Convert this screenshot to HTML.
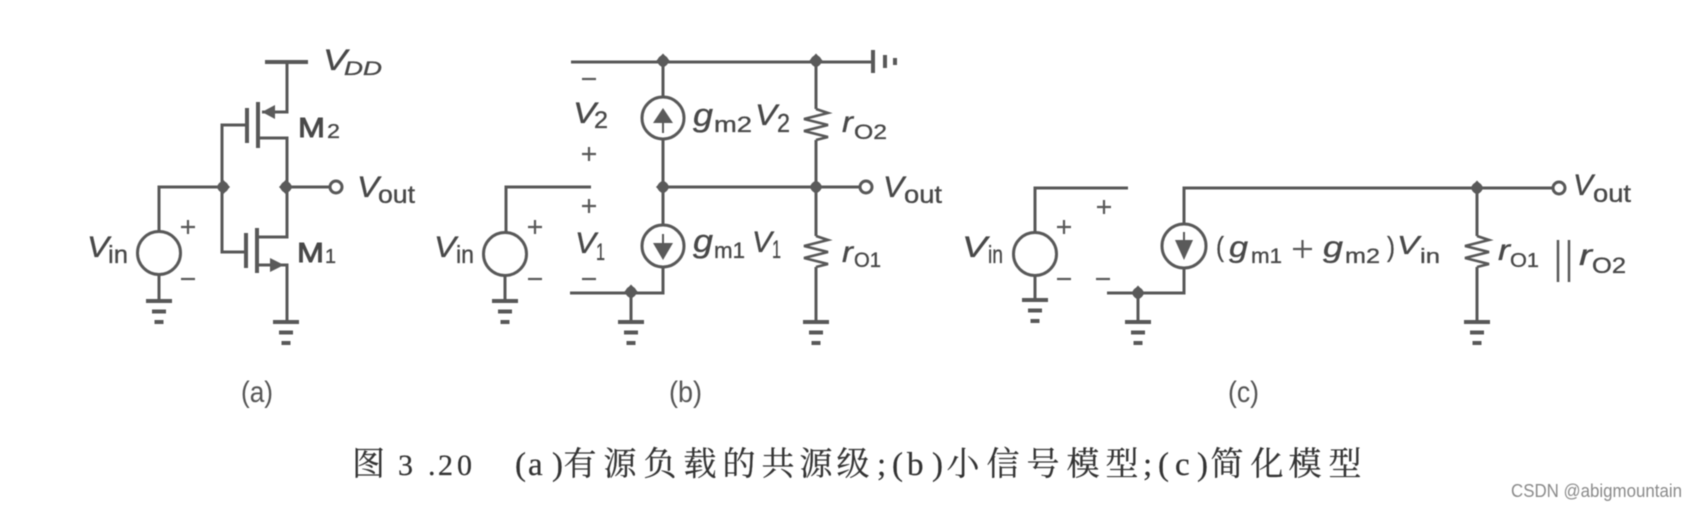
<!DOCTYPE html>
<html><head><meta charset="utf-8">
<style>
html,body{margin:0;padding:0;background:#fff;width:1697px;height:509px;overflow:hidden}
svg{display:block;filter:blur(.6px)}
text{font-family:"Liberation Sans",sans-serif;fill:#484848;stroke:#484848;stroke-width:.35px}
.i{font-style:italic;font-size:30px}
.s{font-size:25px}
.b{font-size:28px;stroke-width:.9px}
.p{font-size:22px}
.cap{font-family:"Liberation Serif","Noto Serif CJK SC",serif;font-size:33px;fill:#333;stroke:#333;stroke-width:.25px}
.w{fill:none;stroke:#585858;stroke-width:3}
.d{fill:#5a5a5a}
</style></head><body>
<svg width="1697" height="509" viewBox="0 0 1697 509" xmlns="http://www.w3.org/2000/svg">
<defs>
<g id="gnd"><path d="M-13,0H13" stroke="#585858" stroke-width="4"/><path d="M-7,10.500H7" stroke="#585858" stroke-width="4"/><path d="M-4.500,21H4.500" stroke="#585858" stroke-width="4"/></g>
<path id="res" class="w" d="M0,0L12,4L-12,10L12,16L-12,22L12,28L0,31" style="stroke-width:2.600"/>
<path id="plus" d="M-7,0H7M0,-7V7" stroke="#585858" stroke-width="2.200"/>
<path id="minus" d="M-7,0H7" stroke="#585858" stroke-width="2.200"/>
<g id="node"><circle class="d" r="5.500"/><path class="d" d="M0,-7.500L7,0L0,7.500L-7,0Z"/></g>
</defs>

<!-- (a) -->
<g class="w">
<path d="M265,62H308" stroke-width="4"/>
<path d="M287,62V112H262"/>
<path d="M258,102V148" stroke-width="4"/><path d="M247,108V143" stroke-width="4"/>
<path d="M247,125H222V252H247"/>
<path d="M258,138H287V237H258"/>
<path d="M257,228V273" stroke-width="4"/><path d="M246,233V268" stroke-width="4"/>
<path d="M258,265H287V320"/>
<path d="M159,232V187H223"/><path d="M286,187H330"/>
<circle cx="336" cy="187" r="6"/>
<circle cx="159" cy="253" r="21.500"/>
<path d="M159,275V301"/>
</g>
<path class="d" d="M262,112L275,105V119Z"/><path class="d" d="M284,265L270,258V272Z"/>
<use href="#node" x="223" y="187"/><use href="#node" x="286" y="187"/>
<use href="#gnd" x="159" y="301"/><use href="#gnd" x="286" y="322"/>
<use href="#plus" x="188" y="227"/><use href="#minus" x="188" y="279"/>
<text class="i" x="323" y="70" textLength="24" lengthAdjust="spacingAndGlyphs">V</text>
<text class="i" x="344" y="75" style="font-size:19px" textLength="38" lengthAdjust="spacingAndGlyphs">DD</text>
<text class="i" x="357" y="197" textLength="22" lengthAdjust="spacingAndGlyphs">V</text>
<text class="s" x="378" y="203" textLength="37" lengthAdjust="spacingAndGlyphs">out</text>
<text class="b" x="298" y="137" textLength="27" lengthAdjust="spacingAndGlyphs">M</text>
<text class="p" x="327" y="138" style="font-size:20px" textLength="13" lengthAdjust="spacingAndGlyphs">2</text>
<text class="b" x="297" y="262" textLength="27" lengthAdjust="spacingAndGlyphs">M</text>
<text class="p" x="325" y="263" style="font-size:20px" textLength="11" lengthAdjust="spacingAndGlyphs">1</text>
<text class="i" x="87" y="257" textLength="22" lengthAdjust="spacingAndGlyphs">V</text>
<text class="s" x="108" y="263" textLength="20" lengthAdjust="spacingAndGlyphs">in</text>

<!-- (b) -->
<g class="w">
<path d="M571,62H873"/>
<path d="M873,50V73" stroke-width="4"/><path d="M885,55V68" stroke-width="4"/><path d="M895,58V65" stroke-width="4"/>
<path d="M663,62V97M663,139V225M663,267V293H570"/>
<path d="M663,187H860"/>
<circle cx="866" cy="187" r="6"/>
<circle cx="663" cy="118" r="21"/><circle cx="663" cy="246" r="21"/>
<path d="M631,293V322"/>
<path d="M816,62V109M816,140V236M816,267V322"/>
<path d="M591,187H506V232"/>
<circle cx="505" cy="254" r="21.500"/>
<path d="M505,276V301"/>
<path d="M663,123V133M663,234V243" stroke-width="2"/>
</g>
<use href="#res" x="816" y="109"/><use href="#res" x="816" y="236"/>
<path class="d" d="M663,108L653,123H673Z"/><path class="d" d="M663,260L653,243H673Z"/>
<use href="#node" x="663" y="61"/><use href="#node" x="816" y="61"/>
<use href="#node" x="663" y="187"/><use href="#node" x="816" y="187"/>
<use href="#node" x="631" y="292"/>
<use href="#gnd" x="505" y="301"/><use href="#gnd" x="631" y="322"/><use href="#gnd" x="816" y="322"/>
<use href="#minus" x="589" y="79"/><use href="#plus" x="589" y="154"/><use href="#plus" x="589" y="206"/><use href="#minus" x="589" y="279"/>
<use href="#plus" x="535" y="227"/><use href="#minus" x="535" y="279"/>
<text class="i" x="573" y="123" textLength="23" lengthAdjust="spacingAndGlyphs">V</text>
<text class="p" x="594" y="128" style="font-size:24px" textLength="14" lengthAdjust="spacingAndGlyphs">2</text>
<text class="i" x="575" y="253" textLength="21" lengthAdjust="spacingAndGlyphs">V</text>
<text class="p" x="596" y="260" style="font-size:24px" textLength="9" lengthAdjust="spacingAndGlyphs">1</text>
<text class="i" x="693" y="126" style="font-size:32px" textLength="20" lengthAdjust="spacingAndGlyphs">g</text>
<text class="p" x="714" y="132" textLength="38" lengthAdjust="spacingAndGlyphs">m2</text>
<text class="i" x="755" y="125" textLength="22" lengthAdjust="spacingAndGlyphs">V</text>
<text class="p" x="777" y="132" style="font-size:26px" textLength="13" lengthAdjust="spacingAndGlyphs">2</text>
<text class="i" x="693" y="252" style="font-size:32px" textLength="20" lengthAdjust="spacingAndGlyphs">g</text>
<text class="p" x="714" y="258" textLength="31" lengthAdjust="spacingAndGlyphs">m1</text>
<text class="i" x="752" y="252" textLength="20" lengthAdjust="spacingAndGlyphs">V</text>
<text class="p" x="772" y="258" style="font-size:25px" textLength="9" lengthAdjust="spacingAndGlyphs">1</text>
<text class="i" x="842" y="132" textLength="11" lengthAdjust="spacingAndGlyphs">r</text>
<text class="p" x="854" y="139" style="font-size:21px" textLength="33" lengthAdjust="spacingAndGlyphs">O2</text>
<text class="i" x="842" y="262" textLength="11" lengthAdjust="spacingAndGlyphs">r</text>
<text class="p" x="854" y="267" style="font-size:21px" textLength="27" lengthAdjust="spacingAndGlyphs">O1</text>
<text class="i" x="883" y="197" textLength="21" lengthAdjust="spacingAndGlyphs">V</text>
<text class="s" x="904" y="203" textLength="38" lengthAdjust="spacingAndGlyphs">out</text>
<text class="i" x="434" y="257" textLength="22" lengthAdjust="spacingAndGlyphs">V</text>
<text class="s" x="456" y="263" textLength="18" lengthAdjust="spacingAndGlyphs">in</text>

<!-- (c) -->
<g class="w">
<path d="M1128,188H1035V232"/>
<circle cx="1035" cy="254" r="21.500"/>
<path d="M1035,276V300"/>
<path d="M1553,188H1184V224"/>
<circle cx="1184" cy="246" r="22"/>
<path d="M1184,268V293H1107"/>
<path d="M1138,293V322"/>
<circle cx="1559" cy="188" r="6"/>
<path d="M1477,188V236M1477,267V322"/>
<path d="M1184,232V242" stroke-width="2"/>
</g>
<use href="#res" x="1477" y="236"/>
<path class="d" d="M1184,260L1175,240H1193Z"/>
<use href="#node" x="1477" y="188"/><use href="#node" x="1138" y="293"/>
<use href="#gnd" x="1035" y="300"/><use href="#gnd" x="1138" y="322"/><use href="#gnd" x="1477" y="322"/>
<use href="#plus" x="1064" y="227"/><use href="#minus" x="1064" y="279"/>
<use href="#plus" x="1104" y="207"/><use href="#minus" x="1103" y="279"/>
<text class="i" x="962" y="257" textLength="25" lengthAdjust="spacingAndGlyphs">V</text>
<text class="s" x="988" y="263" textLength="15" lengthAdjust="spacingAndGlyphs">in</text>
<text class="s" x="1216" y="256" style="font-size:28px" textLength="8" lengthAdjust="spacingAndGlyphs">(</text>
<text class="i" x="1229" y="257" textLength="19" lengthAdjust="spacingAndGlyphs">g</text>
<text class="p" x="1251" y="263" style="font-size:21px" textLength="31" lengthAdjust="spacingAndGlyphs">m1</text>
<path d="M1293,249H1312M1302.500,240V258" stroke="#585858" stroke-width="2.200"/>
<text class="i" x="1323" y="257" textLength="20" lengthAdjust="spacingAndGlyphs">g</text>
<text class="p" x="1345" y="263" style="font-size:21px" textLength="35" lengthAdjust="spacingAndGlyphs">m2</text>
<text class="s" x="1387" y="256" style="font-size:28px" textLength="8" lengthAdjust="spacingAndGlyphs">)</text>
<text class="i" x="1397" y="254" style="font-size:26px" textLength="22" lengthAdjust="spacingAndGlyphs">V</text>
<text class="s" x="1420" y="263" style="font-size:20px" textLength="20" lengthAdjust="spacingAndGlyphs">in</text>
<text class="i" x="1498" y="260" textLength="12" lengthAdjust="spacingAndGlyphs">r</text>
<text class="p" x="1510" y="267" style="font-size:20px" textLength="29" lengthAdjust="spacingAndGlyphs">O1</text>
<path class="w" d="M1558,240V282M1569,240V282" style="stroke-width:2.500"/>
<text class="i" x="1579" y="265" textLength="13" lengthAdjust="spacingAndGlyphs">r</text>
<text class="p" x="1592" y="273" textLength="34" lengthAdjust="spacingAndGlyphs">O2</text>
<text class="i" x="1573" y="195" textLength="20" lengthAdjust="spacingAndGlyphs">V</text>
<text class="s" x="1593" y="202" textLength="38" lengthAdjust="spacingAndGlyphs">out</text>

<!-- panel labels -->
<text class="s" x="241" y="402" textLength="32" lengthAdjust="spacingAndGlyphs" style="font-size:30px;fill:#555;stroke:none">(a)</text>
<text class="s" x="669" y="402" textLength="33" lengthAdjust="spacingAndGlyphs" style="font-size:30px;fill:#555;stroke:none">(b)</text>
<text class="s" x="1228" y="402" textLength="31" lengthAdjust="spacingAndGlyphs" style="font-size:30px;fill:#555;stroke:none">(c)</text>

<!-- caption -->
<text class="cap" x="352" y="475">图</text>
<text class="cap" x="398 428 438 457" y="475" style="font-size:30px">3.20</text>
<text class="cap" x="515 528 552 563.500 603.500 643.500 683.500 722.500 761.500 799.500 836.500 877 892 907 932 946.500 986.500 1026.500 1066.500 1105.500 1143 1158 1175 1197 1210.500 1250.500 1288.500 1328.500" y="475">(a)有源负载的共源级;(b)小信号模型;(c)简化模型</text>

<!-- watermark -->
<text x="1511" y="497" style="font-size:18px;fill:#8a8a8a;stroke:none" textLength="171" lengthAdjust="spacingAndGlyphs">CSDN @abigmountain</text>
</svg>
</body></html>
